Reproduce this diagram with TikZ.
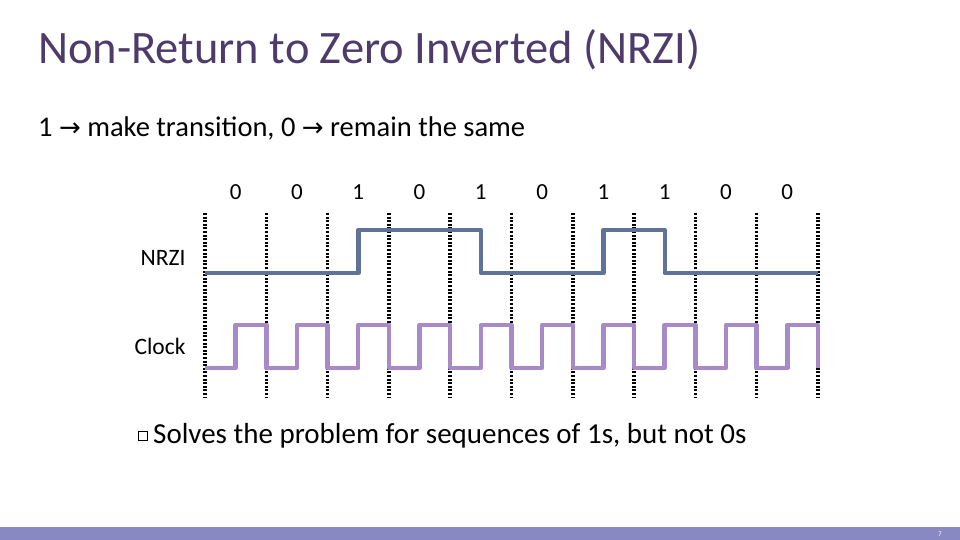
\documentclass[tikz,border=0pt]{standalone}
\usepackage{fontspec}
\setmainfont{Carlito}
\newfontfamily\symfont{DejaVu Sans}
\definecolor{titlec}{HTML}{4E3B6B}
\definecolor{nrzc}{HTML}{5F7399}
\definecolor{clkc}{HTML}{A98AC9}
\definecolor{barc}{HTML}{8888C2}
\begin{document}
\begin{tikzpicture}[x=1pt,y=-1pt,
  sig/.style={line width=4.5pt,line join=round},
  grid/.style={line width=3.5pt,dash pattern=on 2pt off 1.6pt},
  txt/.style={inner sep=0pt,anchor=west}]
\useasboundingbox (0,0) rectangle (960,540);
\fill[barc] (0,527) rectangle (960,540);
\node[txt,font=\fontsize{7}{8}\selectfont,text=white] (pg) at (938,534) {7};
\node[txt,font=\fontsize{46.5}{52}\selectfont,text=titlec] (title) at (38,50) {Non-Return to Zero Inverted (NRZI)};
\node[txt,font=\fontsize{28.5}{32}\selectfont] (sub) at (38,128) {1 {\symfont\fontsize{26}{28}\selectfont→} make transition, 0 {\symfont\fontsize{26}{28}\selectfont→} remain the same};
\foreach \i in {0,...,10}{
  \draw[grid] ({205+61.3*\i},213) -- ({205+61.3*\i},397);
}
\foreach \b [count=\i from 0] in {0,0,1,0,1,0,1,1,0,0}{
  \node[font=\fontsize{23}{26}\selectfont] (b\i) at ({235.6+61.3*\i},192) {\b};
}
\node[anchor=east,font=\fontsize{23.5}{26}\selectfont] (lnrzi) at (189,258) {NRZI};
\node[anchor=east,font=\fontsize{23.5}{26}\selectfont] (lclk) at (189,346) {Clock};
\draw[sig,nrzc] (205,273) -- (358.3,273) -- (358.3,230) -- (480.9,230) -- (480.9,273)
  -- (603.5,273) -- (603.5,230) -- (664.8,230) -- (664.8,273) -- (818,273);
\draw[sig,clkc] (205,368)
  \foreach \i in {0,...,9}{ -- ({235.6+61.3*\i},368) -- ({235.6+61.3*\i},325) -- ({266.3+61.3*\i},325) -- ({266.3+61.3*\i},368)};
\draw[line width=0.8pt] (138,431) rectangle (147,440);
\node[txt,font=\fontsize{29}{32}\selectfont] (bul) at (153,436) {Solves the problem for sequences of 1s, but not 0s};
\end{tikzpicture}
\end{document}
